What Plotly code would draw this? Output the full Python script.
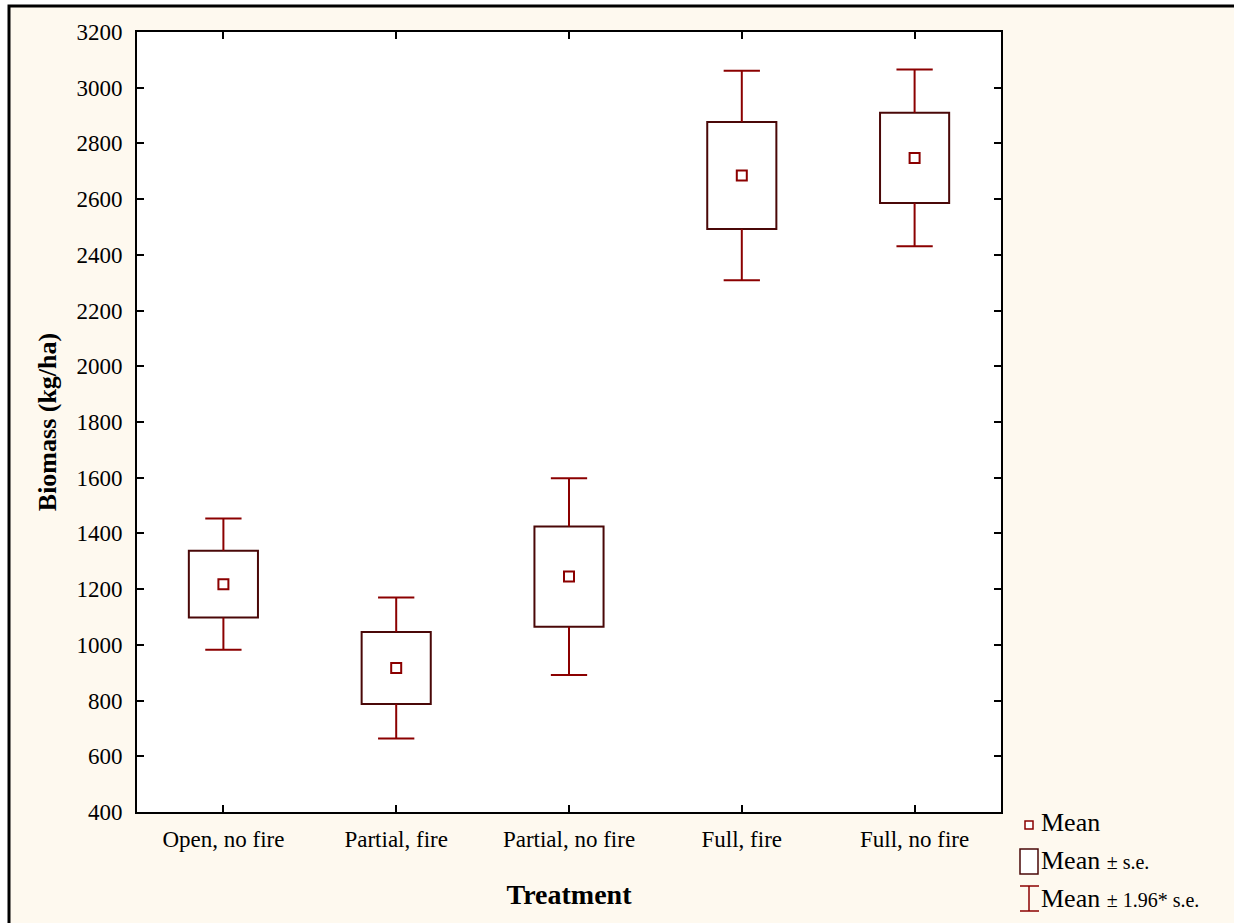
import plotly.graph_objects as go

# Biomass by treatment: mean, standard error
treatments = ["Open, no fire", "Partial, fire", "Partial, no fire", "Full, fire", "Full, no fire"]
means = [1218, 917, 1245, 2685, 2748]
std_errs = [120, 129, 180, 192, 162]
y_ticks = list(range(400, 3201, 200))

WHISKER = "#8b0000"
BOX_LINE = "#4a0808"
CREAM = "#fef9ef"
FONT = "Liberation Serif"

W, H = 1234, 923
L, R, T, B = 137, 1001, 32, 812  # plot area in pixels

def px(xp):
    return (xp - L) / (R - L)

def py(yp):
    return (B - yp) / (B - T)

xs = list(range(len(treatments)))
box_w = 0.4
cap_w = 0.21

fig = go.Figure()

# Mean ± s.e. boxes
fig.add_trace(go.Bar(
    x=xs,
    y=[2 * s for s in std_errs],
    base=[m - s for m, s in zip(means, std_errs)],
    width=box_w,
    marker=dict(color="white", line=dict(color=BOX_LINE, width=2)),
    hoverinfo="skip",
))

# Mean ± 1.96*s.e. whiskers with caps
wx, wy = [], []
for xi, m, s in zip(xs, means, std_errs):
    for sign in (1, -1):
        inner = m + sign * s
        outer = m + sign * 1.96 * s
        wx += [xi, xi, None, xi - cap_w / 2, xi + cap_w / 2, None]
        wy += [inner, outer, None, outer, outer, None]
fig.add_trace(go.Scatter(
    x=wx, y=wy, mode="lines",
    line=dict(color=WHISKER, width=2),
    hoverinfo="skip",
))

# Means
fig.add_trace(go.Scatter(
    x=xs, y=means, mode="markers",
    marker=dict(symbol="square-open", size=10, color=WHISKER, line=dict(width=2, color=WHISKER)),
    hoverinfo="skip",
))

shapes = [
    # cream frame behind the whole chart
    dict(type="rect", xref="paper", yref="paper",
         x0=px(9), x1=px(W + 20), y0=py(H + 20), y1=py(6),
         fillcolor=CREAM, line=dict(color="black", width=3), layer="below"),
    # white plot area
    dict(type="rect", xref="paper", yref="paper",
         x0=0, x1=1, y0=0, y1=1,
         fillcolor="white", line=dict(width=0), layer="below"),
    # legend symbols
    dict(type="rect", xref="paper", yref="paper",
         x0=px(1025), x1=px(1033), y0=py(829), y1=py(821),
         fillcolor="white", line=dict(color=WHISKER, width=1.5)),
    dict(type="rect", xref="paper", yref="paper",
         x0=px(1020), x1=px(1038), y0=py(874), y1=py(849),
         fillcolor="white", line=dict(color=BOX_LINE, width=1.5)),
    dict(type="line", xref="paper", yref="paper",
         x0=px(1029), x1=px(1029), y0=py(911), y1=py(886),
         line=dict(color=WHISKER, width=1.5)),
    dict(type="line", xref="paper", yref="paper",
         x0=px(1020), x1=px(1039), y0=py(886), y1=py(886),
         line=dict(color=WHISKER, width=1.5)),
    dict(type="line", xref="paper", yref="paper",
         x0=px(1020), x1=px(1039), y0=py(911), y1=py(911),
         line=dict(color=WHISKER, width=1.5)),
]

legend_rows = [
    ("Mean", 822),
    ("Mean <span style='font-size:20px'>± s.e.</span>", 860),
    ("Mean <span style='font-size:20px'>± 1.96* s.e.</span>", 898),
]
annotations = [
    dict(text=t, xref="paper", yref="paper", x=px(1039), y=py(yp),
         xanchor="left", yanchor="middle", showarrow=False,
         font=dict(family=FONT, size=26, color="black"))
    for t, yp in legend_rows
]

fig.update_layout(
    width=W, height=H,
    margin=dict(l=L, r=W - R, t=T, b=H - B),
    paper_bgcolor="white",
    plot_bgcolor="white",
    showlegend=False,
    hovermode=False,
    font=dict(family=FONT, color="black"),
    shapes=shapes,
    annotations=annotations,
    xaxis=dict(
        range=[-0.5, len(treatments) - 0.5],
        tickvals=xs, ticktext=treatments,
        ticks="inside", ticklen=7, tickwidth=2, tickcolor="black",
        showline=True, linecolor="black", linewidth=2, mirror="ticks",
        showgrid=False, zeroline=False,
        tickfont=dict(family=FONT, size=23),
        ticklabelstandoff=5,
        title=dict(text="<b>Treatment</b>", font=dict(family=FONT, size=28), standoff=34),
    ),
    yaxis=dict(
        range=[400, 3200],
        tickvals=y_ticks,
        ticks="inside", ticklen=7, tickwidth=2, tickcolor="black",
        showline=True, linecolor="black", linewidth=2, mirror="ticks",
        showgrid=False, zeroline=False,
        tickfont=dict(family=FONT, size=23),
        ticklabelstandoff=8,
        title=dict(text="<b>Biomass (kg/ha)</b>", font=dict(family=FONT, size=26), standoff=12),
    ),
)

fig.write_html("out.html")
